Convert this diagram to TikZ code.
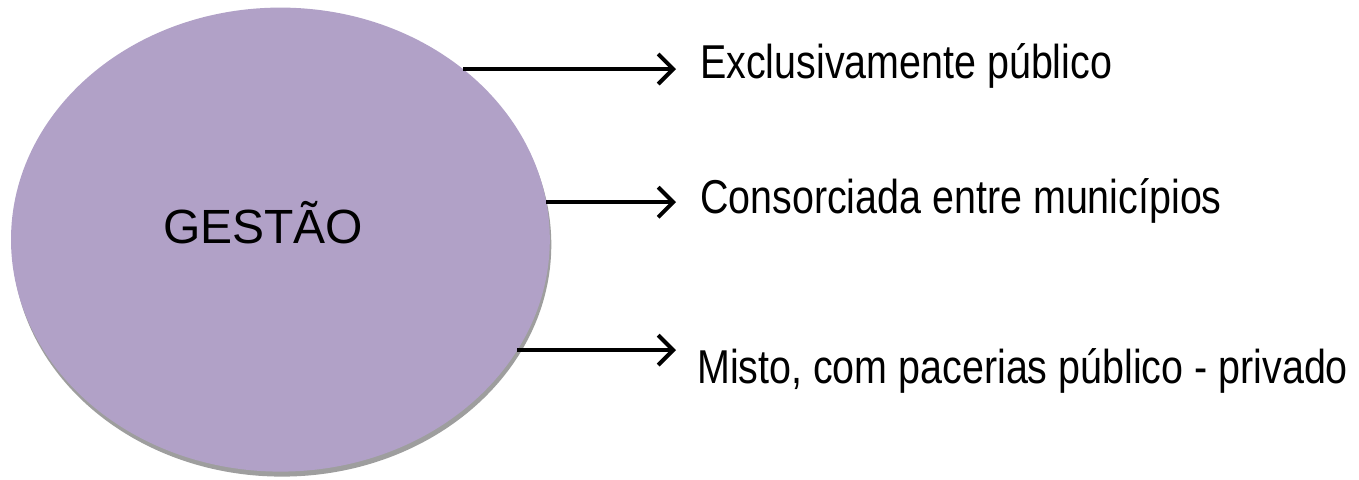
\documentclass[tikz,border=0pt]{standalone}
\usepackage{fontspec}
\setmainfont{Liberation Sans}
\usetikzlibrary{arrows.meta,shapes.geometric,shadows}
\definecolor{gpurple}{HTML}{B1A1C7}
\definecolor{gshadow}{HTML}{9E9E9E}
\begin{document}
\begin{tikzpicture}[x=1pt,y=1pt,
  arr/.style={line width=4pt,-{Straight Barb[length=15pt,width=30pt,line width=4pt]}},
  opt/.style={anchor=base west,inner sep=0pt,font=\fontsize{47.5}{57}\selectfont},
  gestao/.style={ellipse,minimum width=538.8pt,minimum height=464pt,inner sep=0pt,
    fill=gpurple,drop shadow={shadow xshift=1.5pt,shadow yshift=-5pt,fill=gshadow,opacity=1}}
]
\useasboundingbox (0,0) rectangle (1359,479);
\node[gestao] (g) at (280.4,239.4) {};
\node[anchor=base west,inner sep=0pt,font=\fontsize{48}{57}\selectfont] (lbl) at (163,235.7) {GESTÃO};
\node[opt] (t1) at (700,400) {\scalebox{0.83}[1]{Exclusivamente público}};
\node[opt] (t2) at (700,265) {\scalebox{0.83}[1]{Consorciada entre municípios}};
\node[opt] (t3) at (697,95) {\scalebox{0.83}[1]{Misto, com pacerias público - privado}};
\coordinate (e1) at (676,412.3);
\coordinate (e2) at (676,277);
\coordinate (e3) at (676,127);
\draw[arr] (g.43.6) -- (g.43.6 -| e1);
\draw[arr] (g.8.05) -- (g.8.05 -| e2);
\draw[arr] (g.-25.5) -- (g.-25.5 -| e3);
\end{tikzpicture}
\end{document}
